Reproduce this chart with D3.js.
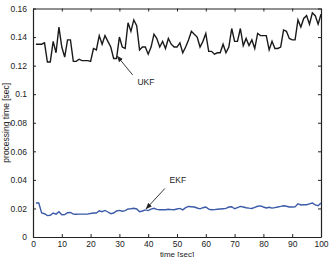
<!DOCTYPE html>
<html>
<head>
<meta charset="utf-8">
<script src="https://cdn.jsdelivr.net/npm/d3@7"></script>
<style>
  body { margin: 0; background: #fff; }
  svg { display: block; font-family: "Liberation Sans", Arial, sans-serif; }
</style>
</head>
<body>
<script>
// processing time per step (t = 1..100)
const ukf = [
  0.135, 0.135, 0.135, 0.136, 0.1225, 0.1225, 0.137, 0.129, 0.147, 0.133,
  0.126, 0.138, 0.138, 0.123, 0.123, 0.1245, 0.1235, 0.1235, 0.1235, 0.123,
  0.132, 0.131, 0.141, 0.135, 0.141, 0.137, 0.133, 0.125, 0.125, 0.140,
  0.133, 0.132, 0.150, 0.144, 0.152, 0.148, 0.131, 0.133, 0.133, 0.128,
  0.133, 0.142, 0.139, 0.133, 0.137, 0.132, 0.139, 0.135, 0.133, 0.133,
  0.136, 0.129, 0.133, 0.138, 0.144, 0.142, 0.140, 0.133, 0.137, 0.1425,
  0.130, 0.130, 0.128, 0.129, 0.129, 0.135, 0.129, 0.133, 0.146, 0.137,
  0.137, 0.146, 0.134, 0.139, 0.134, 0.138, 0.132, 0.1425, 0.141, 0.141,
  0.141, 0.131, 0.137, 0.132, 0.132, 0.133, 0.145, 0.144, 0.139, 0.138,
  0.138, 0.152, 0.147, 0.153, 0.155, 0.149, 0.157, 0.155, 0.149, 0.156
];
const ekf = [
  0.0238, 0.0238, 0.0168, 0.0163, 0.015, 0.0152, 0.0168, 0.016, 0.0177, 0.0156,
  0.0157, 0.017, 0.0172, 0.016, 0.0159, 0.016, 0.016, 0.016, 0.016, 0.0165,
  0.0168, 0.0168, 0.0184, 0.0177, 0.0186, 0.0175, 0.0163, 0.0168, 0.0182, 0.0186,
  0.018, 0.0185, 0.0196, 0.0198, 0.0201, 0.0196, 0.0177, 0.0182, 0.019, 0.0185,
  0.0195, 0.0201, 0.0193, 0.0191, 0.0191, 0.0191, 0.0194, 0.0192, 0.0191, 0.0196,
  0.020, 0.019, 0.0205, 0.0214, 0.0212, 0.021, 0.0203, 0.0197, 0.0205, 0.021,
  0.0195, 0.0191, 0.0192, 0.0194, 0.0196, 0.0198, 0.020, 0.021, 0.0212, 0.0198,
  0.0206, 0.0214, 0.021, 0.0205, 0.0202, 0.020, 0.0208, 0.0215, 0.0218, 0.021,
  0.0203, 0.0208, 0.0202, 0.0206, 0.021, 0.0214, 0.0219, 0.0215, 0.021, 0.021,
  0.0211, 0.0233, 0.0224, 0.0226, 0.0226, 0.0232, 0.0238, 0.0225, 0.0219, 0.0238
];
const xTicks = [0, 10, 20, 30, 40, 50, 60, 70, 80, 90, 100];
const yTicks = [0, 0.02, 0.04, 0.06, 0.08, 0.1, 0.12, 0.14, 0.16];
const yTickLabels = ["0", "0.02", "0.04", "0.06", "0.08", "0.1", "0.12", "0.14", "0.16"];

const W = 329, H = 257;
const margin = { top: 8.5, right: 8, bottom: 20, left: 33 };
const width = W - margin.left - margin.right;
const height = H - margin.top - margin.bottom;

const svg = d3.select("body").append("svg")
  .attr("width", W)
  .attr("height", H);

const g = svg.append("g")
  .attr("transform", `translate(${margin.left},${margin.top})`);

const x = d3.scaleLinear().domain([0, 100]).range([0, width]);
const y = d3.scaleLinear().domain([0, 0.16]).range([height, 0]);

// axes (matlab style: inward ticks on all sides)
const fmt = (d) => yTickLabels[yTicks.indexOf(d)];
g.append("g").attr("transform", `translate(0,${height})`)
  .call(d3.axisBottom(x).tickValues(xTicks).tickSizeInner(-3).tickSizeOuter(0).tickPadding(4));
g.append("g")
  .call(d3.axisLeft(y).tickValues(yTicks).tickFormat(fmt).tickSizeInner(-3).tickSizeOuter(0).tickPadding(6));
g.append("g")
  .call(d3.axisTop(x).tickValues(xTicks).tickFormat("").tickSizeInner(-3).tickSizeOuter(0));
g.append("g").attr("transform", `translate(${width},0)`)
  .call(d3.axisRight(y).tickValues(yTicks).tickFormat("").tickSizeInner(-3).tickSizeOuter(0));

g.selectAll(".domain").attr("stroke", "#222").attr("stroke-width", 1.2);
g.selectAll(".tick line").attr("stroke", "#222");
g.selectAll(".tick text").attr("font-size", 8.5).attr("fill", "#222")
  .attr("font-family", "Liberation Sans, Arial, sans-serif");

const line = d3.line()
  .x((d, i) => x(i + 1))
  .y((d) => y(d));

g.append("path").datum(ukf)
  .attr("fill", "none")
  .attr("stroke", "#1a1a1a")
  .attr("stroke-width", 1.4)
  .attr("d", line);

g.append("path").datum(ekf)
  .attr("fill", "none")
  .attr("stroke", "#3b5ba8")
  .attr("stroke-width", 1.4)
  .attr("d", line);

// arrowhead
svg.append("defs").append("marker")
  .attr("id", "arr")
  .attr("viewBox", "0 0 10 10")
  .attr("refX", 9).attr("refY", 5)
  .attr("markerWidth", 7).attr("markerHeight", 7)
  .attr("orient", "auto")
  .append("path").attr("d", "M0,1 L10,5 L0,9 Z").attr("fill", "#222");

// UKF label
g.append("text").attr("x", x(39.2)).attr("y", y(0.1063)).attr("font-size", 8.5)
  .attr("text-anchor", "middle").attr("fill", "#222").text("UKF");
g.append("line")
  .attr("x1", x(34.6)).attr("y1", y(0.1135))
  .attr("x2", x(29.3)).attr("y2", y(0.1265))
  .attr("stroke", "#222").attr("stroke-width", 0.9)
  .attr("marker-end", "url(#arr)");

// EKF label
g.append("text").attr("x", x(50.3)).attr("y", y(0.0378)).attr("font-size", 8.5)
  .attr("text-anchor", "middle").attr("fill", "#222").text("EKF");
g.append("line")
  .attr("x1", x(45.8)).attr("y1", y(0.034))
  .attr("x2", x(39.3)).attr("y2", y(0.0198))
  .attr("stroke", "#222").attr("stroke-width", 0.9)
  .attr("marker-end", "url(#arr)");

// axis titles
svg.append("text")
  .attr("x", margin.left + width / 2).attr("y", H - 0.5)
  .attr("text-anchor", "middle").attr("font-size", 8).attr("fill", "#222")
  .text("time [sec]");
svg.append("text")
  .attr("transform", `translate(8.5,${margin.top + height / 2}) rotate(-90)`)
  .attr("text-anchor", "middle").attr("font-size", 8.5).attr("fill", "#222")
  .text("processing time [sec]");
</script>
</body>
</html>
